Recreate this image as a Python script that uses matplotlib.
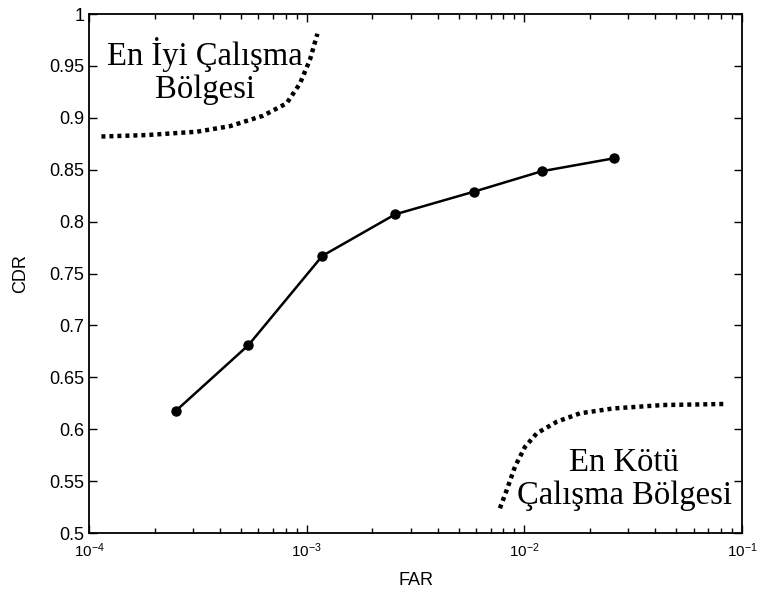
import numpy as np
import matplotlib
matplotlib.use("Agg")
import matplotlib.pyplot as plt
from matplotlib.ticker import LogLocator, FixedLocator

# ROC points
far = [2.5e-4, 5.4e-4, 1.18e-3, 2.55e-3, 5.9e-3, 1.2e-2, 2.58e-2]
cdr = [0.6175, 0.681, 0.767, 0.807, 0.829, 0.8485, 0.861]

# "best" region boundary (upper left)
best_x = [1.14e-4, 1.84e-4, 3.13e-4, 4.45e-4, 6.3e-4, 8.09e-4, 9.31e-4, 1.035e-3, 1.12e-3]
best_y = [0.882, 0.8834, 0.8866, 0.892, 0.902, 0.914, 0.933, 0.956, 0.981]

# "worst" region boundary (lower right)
worst_x = [7.72e-3, 8.3e-3, 9.06e-3, 1.007e-2, 1.14e-2, 1.41e-2, 1.8e-2, 2.56e-2, 4.34e-2, 8.33e-2]
worst_y = [0.5238, 0.5414, 0.564, 0.583, 0.596, 0.6072, 0.6153, 0.620, 0.6233, 0.6243]

yticks = [0.5, 0.55, 0.6, 0.65, 0.7, 0.75, 0.8, 0.85, 0.9, 0.95, 1.0]
ytick_labels = ["0.5", "0.55", "0.6", "0.65", "0.7", "0.75", "0.8", "0.85", "0.9", "0.95", "1"]

plt.rcParams['font.family'] = ['Liberation Sans', 'DejaVu Sans']

fig = plt.figure(figsize=(7.57, 5.97), dpi=100)
ax = fig.add_axes([0.1176, 0.1072, 0.8626, 0.8693])

ax.plot(far, cdr, color='black', lw=1.8, marker='o', markersize=6.5)
ax.plot(best_x, best_y, color='black', lw=3.2, linestyle=(0, (0.9, 0.9)))
ax.plot(worst_x, worst_y, color='black', lw=3.2, linestyle=(0, (0.9, 0.9)))

ax.set_xscale('log')
ax.set_xlim(1e-4, 1e-1)
ax.set_ylim(0.5, 1.0)
ax.yaxis.set_major_locator(FixedLocator(yticks))
ax.set_yticklabels(ytick_labels)
ax.xaxis.set_minor_locator(LogLocator(base=10, subs=np.arange(2, 10)))

ax.tick_params(which='both', direction='in', top=True, right=True, labelsize=13, width=1)
ax.tick_params(axis='x', labelsize=11, pad=6)
ax.tick_params(which='major', length=6)
ax.tick_params(which='minor', length=3.5)
for s in ax.spines.values():
    s.set_linewidth(1.3)

ax.set_xlabel('FAR', fontsize=13)
ax.set_ylabel('CDR', fontsize=13)
ax.xaxis.set_label_coords(0.5, -0.075)
ax.yaxis.set_label_coords(-0.091, 0.5)

serif = ['Liberation Serif', 'DejaVu Serif']
ax.text(3.4e-4, 0.945, 'En İyi Çalışma\nBölgesi', family=serif, fontsize=23.5,
        ha='center', va='center', linespacing=1.1)
ax.text(2.87e-2, 0.552, 'En Kötü\nÇalışma Bölgesi', family=serif, fontsize=23.5,
        ha='center', va='center', linespacing=1.1)

fig.savefig('out.png', dpi=100)
